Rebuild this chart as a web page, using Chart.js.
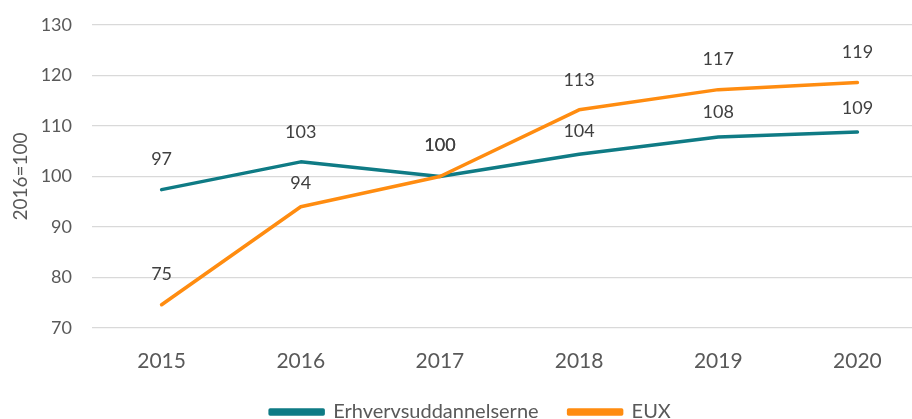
<!DOCTYPE html>
<html><head><meta charset="utf-8">
<script src="https://cdn.jsdelivr.net/npm/chart.js@4"></script>
<style>html,body{margin:0;padding:0;overflow:hidden;background:#fff;width:912px;height:419px}</style>
</head><body>
<canvas id="c" width="927" height="432" style="display:block"></canvas>
<script>
const years = ['2015', '2016', '2017', '2018', '2019', '2020'];
const erhverv = [97.4, 102.9, 100, 104.4, 107.8, 108.8];
const eux = [74.6, 94.0, 100, 113.2, 117.2, 118.6];
const seriesNames = ['Erhvervsuddannelserne', 'EUX'];
const yTitle = '2016=100';
const yMin = 70, yMax = 130, yStep = 10;

const TEAL = '#0f7b85';
const ORANGE = '#ff8c10';
const FONT = 'Lato, "Open Sans", sans-serif';

const dataLabels = {
  id: 'dataLabels',
  afterDatasetsDraw(chart, args, opts) {
    const ctx = chart.ctx;
    ctx.save();
    ctx.font = '18px ' + FONT;
    ctx.fillStyle = '#404040';
    ctx.textAlign = 'center';
    ctx.textBaseline = 'middle';
    chart.data.datasets.forEach((ds, di) => {
      const meta = chart.getDatasetMeta(di);
      const offs = opts.offsets[di];
      meta.data.forEach((pt, i) => {
        ctx.fillText(String(Math.round(ds.data[i])), pt.x, pt.y - offs[i]);
      });
    });
    ctx.restore();
  }
};

const legendShift = {
  id: 'legendShift',
  afterLayout(chart, args, opts) {
    if (chart.legend) { chart.legend.left += opts.dx; chart.legend.right += opts.dx; }
  }
};

new Chart(document.getElementById('c'), {
  type: 'line',
  data: {
    labels: years,
    datasets: [
      { label: seriesNames[0], data: erhverv, borderColor: TEAL, backgroundColor: TEAL,
        borderWidth: 3.5, pointRadius: 0, tension: 0, borderCapStyle: 'round', borderJoinStyle: 'round', order: 2 },
      { label: seriesNames[1], data: eux, borderColor: ORANGE, backgroundColor: ORANGE,
        borderWidth: 3.5, pointRadius: 0, tension: 0, borderCapStyle: 'round', borderJoinStyle: 'round', order: 1 }
    ]
  },
  options: {
    responsive: false,
    devicePixelRatio: 1,
    animation: false,
    layout: { padding: { top: 25, left: 0, right: 0, bottom: 0 } },
    scales: {
      x: {
        offset: true,
        grid: { display: false },
        border: { display: false },
        ticks: { color: '#595959', font: { family: FONT, size: 21 }, padding: 13, maxRotation: 0 },
        afterFit(s) { s.height = 44; }
      },
      y: {
        min: yMin, max: yMax,
        grid: { color: '#d9d9d9', lineWidth: 1.3, drawTicks: false },
        border: { display: false },
        ticks: { stepSize: yStep, color: '#595959', font: { family: FONT, size: 18 }, padding: 20 },
        title: { display: true, text: yTitle, color: '#595959', font: { family: FONT, size: 19 }, padding: { top: 9, bottom: 0 } },
        afterFit(s) { s.width = 92; s.paddingTop = 0; s.paddingBottom = 0; }
      }
    },
    plugins: {
      legend: {
        position: 'bottom',
        labels: { boxWidth: 53, boxHeight: 4, color: '#595959', font: { family: FONT, size: 20 }, padding: 30,
          sort: (a, b) => a.datasetIndex - b.datasetIndex }
      },
      legendShift: { dx: 7 },
      tooltip: { enabled: false },
      dataLabels: { offsets: [[30, 30, 31, 23, 24.5, 24], [31, 24, 31, 30, 30, 30.5]] }
    }
  },
  plugins: [dataLabels, legendShift]
});
</script>
</body></html>
